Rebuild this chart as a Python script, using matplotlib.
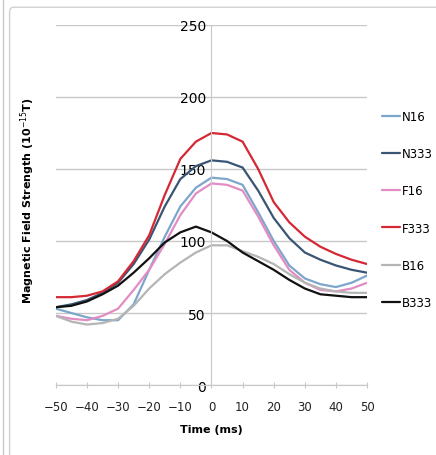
import matplotlib.pyplot as plt
from matplotlib.lines import Line2D
from matplotlib.patches import FancyBboxPatch

# Time axis (ms) and field strength per condition (10^-15 T)
time_ms = [-50, -45, -40, -35, -30, -25, -20, -15, -10, -5, 0,
           5, 10, 15, 20, 25, 30, 35, 40, 45, 50]
n16 = [53, 50, 47, 45, 45, 56, 80, 103, 124, 137, 144, 143, 139, 120, 100, 83, 74, 70, 68, 71, 76]
n333 = [54, 56, 59, 64, 71, 84, 101, 124, 143, 152, 156, 155, 151, 135, 116, 102, 92, 87, 83, 80, 78]
f16 = [48, 46, 45, 48, 53, 66, 80, 98, 118, 133, 140, 139, 135, 117, 97, 80, 71, 66, 65, 67, 71]
f333 = [61, 61, 62, 65, 72, 86, 104, 132, 157, 169, 175, 174, 169, 150, 127, 113, 103, 96, 91, 87, 84]
b16 = [48, 44, 42, 43, 46, 55, 67, 77, 85, 92, 97, 97, 93, 89, 84, 77, 71, 67, 65, 64, 64]
b333 = [54, 55, 58, 63, 69, 78, 88, 99, 106, 110, 106, 100, 92, 86, 80, 73, 67, 63, 62, 61, 61]

labels = ['N16', 'N333', 'F16', 'F333', 'B16', 'B333']
series = [n16, n333, f16, f333, b16, b333]
colors = ['#7ca6cb', '#3a5573', '#e28cc3', '#d42835', '#b5b5b5', '#111111']

x_ticks = [-50, -40, -30, -20, -10, 0, 10, 20, 30, 40, 50]
y_ticks = [0, 50, 100, 150, 200, 250]

fig = plt.figure(figsize=(4.36, 4.56), dpi=100)
ax = fig.add_axes([0.128, 0.1535, 0.714, 0.7895])

for vals, lab, col in zip(series, labels, colors):
    ax.plot(time_ms, vals, color=col, lw=1.6, label=lab,
            solid_capstyle='round', solid_joinstyle='round')

ax.set_xlim(-50, 50)
ax.set_ylim(0, 250)
ax.set_xticks(x_ticks)
ax.set_yticks(y_ticks)
ax.set_xticklabels([str(t).replace('-', '\u2212') for t in x_ticks], fontsize=8.5, color='#222222')
ax.set_yticklabels([str(v) for v in y_ticks], fontsize=8.5, color='#444444')

# horizontal gridlines, axis crossing at x=0 like the Excel original
ax.grid(axis='y', color='#c8c8c8', lw=1)
ax.set_axisbelow(True)
for s in ['top', 'right']:
    ax.spines[s].set_visible(False)
ax.spines['left'].set_position(('data', 0))
ax.spines['left'].set_color('#c8c8c8')
ax.spines['bottom'].set_color('#c8c8c8')
ax.tick_params(axis='y', length=0, pad=4)
ax.tick_params(axis='x', direction='inout', length=5, color='#c8c8c8', pad=8)

ax.set_xlabel('Time (ms)', fontsize=8, fontweight='bold', labelpad=8)
fig.text(0.063, 0.56, 'Magnetic Field Strength (10$^{-15}$T)', rotation=90,
         ha='center', va='center', fontsize=8, fontweight='bold')

leg = fig.legend(loc='upper left', bbox_to_anchor=(0.866, 0.767), frameon=False,
                 fontsize=8.5, handlelength=1.5, handletextpad=0.15,
                 labelspacing=2.05, borderaxespad=0)

# outer frame bits
fig.add_artist(Line2D([0.007, 0.007], [0, 1], color='#c8c8c8', lw=1))
fig.add_artist(FancyBboxPatch((0.022, -0.05), 1.1, 1.032,
                              boxstyle='round,pad=0,rounding_size=0.01',
                              transform=fig.transFigure, fill=False,
                              ec='#d0d0d0', lw=1))

fig.savefig('out.png', dpi=100)
